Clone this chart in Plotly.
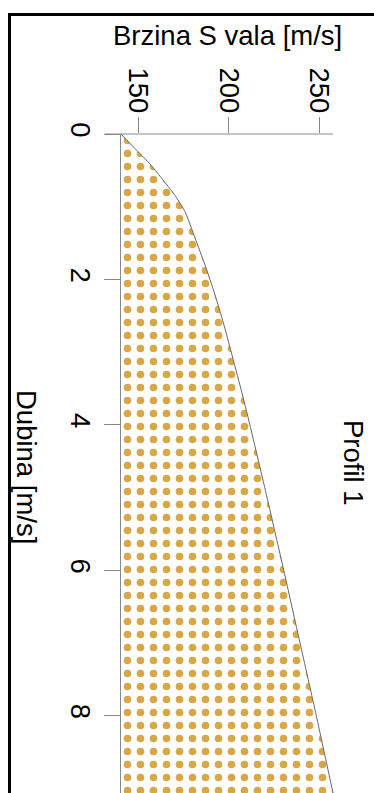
import plotly.graph_objects as go

# Data (depth in m, S-wave velocity in m/s)
depth = [0, 0.2, 0.4, 0.6, 0.85, 1.07, 1.43, 1.8, 2.2, 2.6, 3.0, 3.5, 4.0, 5.0, 6.0, 7.0, 8.0, 9.0, 9.3]
velocity = [140.6, 148.3, 156.2, 162.8, 170.6, 176.0, 181.5, 187.0, 192.4, 197.2, 201.5, 206.8,
            211.8, 221.3, 230.5, 239.5, 248.5, 257.2, 260.0]
vel_ticks = [150, 200, 250]
depth_ticks = [0, 2, 4, 6, 8]

W, H = 374, 793
L, R, T, B = 121, 0, 134, 0
pw, ph = W - L - R, H - T - B
px_per_v = 1.81
px_per_d = 72.7
v0 = 150 - (138 - L) / px_per_v
v1 = v0 + pw / px_per_v
d1 = ph / px_per_d

FONT = "Liberation Sans, Arial, sans-serif"
FS = 27.5


def px2x(p):
    return (p - L) / pw


def py2y(p):
    return (H - B - p) / ph


fig = go.Figure()
fig.add_trace(go.Scatter(
    x=velocity, y=depth, mode="lines",
    line=dict(color="#666666", width=1, shape="spline", smoothing=0.6),
    fill="tozerox", fillcolor="white",
    fillpattern=dict(shape=".", size=13, solidity=0.27, fgcolor="#D5A23E",
                     bgcolor="white", fgopacity=0.95),
    hoverinfo="skip", showlegend=False,
))

fig.update_layout(
    width=W, height=H,
    margin=dict(l=L, r=R, t=T, b=B, pad=0, autoexpand=False),
    paper_bgcolor="white", plot_bgcolor="white",
    font=dict(family=FONT, size=FS, color="black"),
    xaxis=dict(range=[v0, v1], side="top", tickvals=vel_ticks, tickangle=90,
               ticks="outside", ticklen=16, tickcolor="#888888", tickwidth=1,
               ticklabelstandoff=-6, automargin=False,
               showline=False, showgrid=False, zeroline=False,
               tickfont=dict(size=FS, family=FONT, color="black")),
    yaxis=dict(range=[d1, 0], tickvals=depth_ticks, tickangle=90,
               ticks="outside", ticklen=16, tickcolor="#888888", tickwidth=1,
               automargin=False,
               showline=True, linecolor="#888888", linewidth=1,
               showgrid=False, zeroline=False,
               tickfont=dict(size=FS, family=FONT, color="black")),
    shapes=[
        dict(type="line", xref="paper", yref="paper", x0=px2x(105), x1=px2x(333),
             y0=1, y1=1, line=dict(color="#888888", width=1)),
        dict(type="rect", xref="paper", yref="paper", x0=px2x(9.5), x1=2,
             y0=-1, y1=py2y(14.5), line=dict(color="black", width=3)),
    ],
    annotations=[
        dict(text="Brzina S vala [m/s]", xref="paper", yref="paper",
             x=px2x(227.5), y=py2y(36), xanchor="center", yanchor="middle",
             showarrow=False, font=dict(size=FS, family=FONT, color="black")),
        dict(text="Dubina [m/s]", xref="paper", yref="paper", textangle=90,
             x=px2x(27), y=py2y(467), xanchor="center", yanchor="middle",
             showarrow=False, font=dict(size=FS, family=FONT, color="black")),
        dict(text="Profil 1", xref="paper", yref="paper", textangle=90,
             x=px2x(354), y=py2y(463), xanchor="center", yanchor="middle",
             showarrow=False, font=dict(size=FS, family=FONT, color="black")),
    ],
)

fig.write_html("out.html", config={"displayModeBar": False, "staticPlot": True},
               post_script="document.body.style.margin='0';document.body.style.overflow='hidden';")
